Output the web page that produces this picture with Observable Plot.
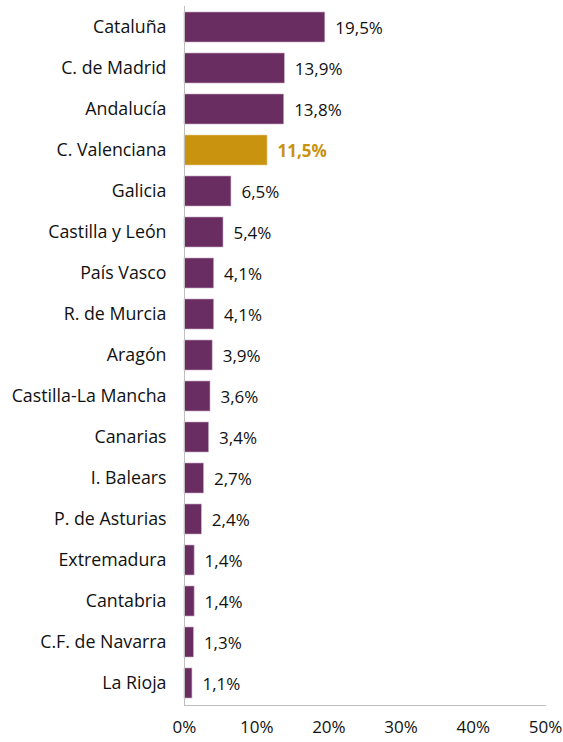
<!DOCTYPE html>
<html>
<head>
<meta charset="utf-8">
<script src="https://cdn.jsdelivr.net/npm/d3@7"></script>
<script src="https://cdn.jsdelivr.net/npm/@observablehq/plot@0.6"></script>
<style>
  body { margin: 0; background: #fff; }
  #chart svg { display: block; }
</style>
</head>
<body>
<div id="chart"></div>
<script>
const regions = ["Cataluña","C. de Madrid","Andalucía","C. Valenciana","Galicia","Castilla y León","País Vasco","R. de Murcia","Aragón","Castilla-La Mancha","Canarias","I. Balears","P. de Asturias","Extremadura","Cantabria","C.F. de Navarra","La Rioja"];
const shares = [19.5,13.9,13.8,11.5,6.5,5.4,4.1,4.1,3.9,3.6,3.4,2.7,2.4,1.4,1.4,1.3,1.1];
const highlight = "C. Valenciana";
const xTicks = [0,10,20,30,40,50];

const data = regions.map((r, i) => ({region: r, value: shares[i], hi: r === highlight}));
const purple = "#6a2d62", gold = "#c9920f";
const fmt = v => v.toFixed(1).replace(".", ",") + "%";
const FS = 17;

const chart = Plot.plot({
  width: 563,
  height: 742,
  marginLeft: 184,
  marginRight: 18,
  marginTop: 6,
  marginBottom: 37,
  style: {fontFamily: "'Open Sans', sans-serif", fontSize: FS + "px", color: "#111"},
  x: {domain: [0, 50], ticks: xTicks, tickFormat: d => d + "%", label: null},
  y: {domain: regions, paddingInner: 0.26, paddingOuter: 0.13, label: null},
  marks: [
    Plot.barX(data, {y: "region", x: "value", fill: d => d.hi ? gold : purple, stroke: d => d.hi ? "#e8cf95" : "#c7a9c2", strokeWidth: 0.6}),
    Plot.text(data.filter(d => !d.hi), {y: "region", x: "value", text: d => fmt(d.value), textAnchor: "start", dx: 10, dy: 1,
      fill: "#111", fontSize: FS}),
    Plot.text(data.filter(d => d.hi), {y: "region", x: "value", text: d => fmt(d.value), textAnchor: "start", dx: 10, dy: 1,
      fill: gold, fontWeight: "bold", fontSize: FS}),
    Plot.axisX({ticks: xTicks, tickFormat: d => d + "%", tickSize: 0, tickPadding: 15, fontSize: FS, label: null}),
    Plot.axisY({tickSize: 0, tickPadding: 18, fontSize: 17.8, label: null}),
    Plot.frame({anchor: "left", stroke: "#bfbfbf", strokeOpacity: 1}),
    Plot.frame({anchor: "bottom", stroke: "#bfbfbf", strokeOpacity: 1})
  ]
});
document.getElementById("chart").append(chart);
</script>
</body>
</html>
